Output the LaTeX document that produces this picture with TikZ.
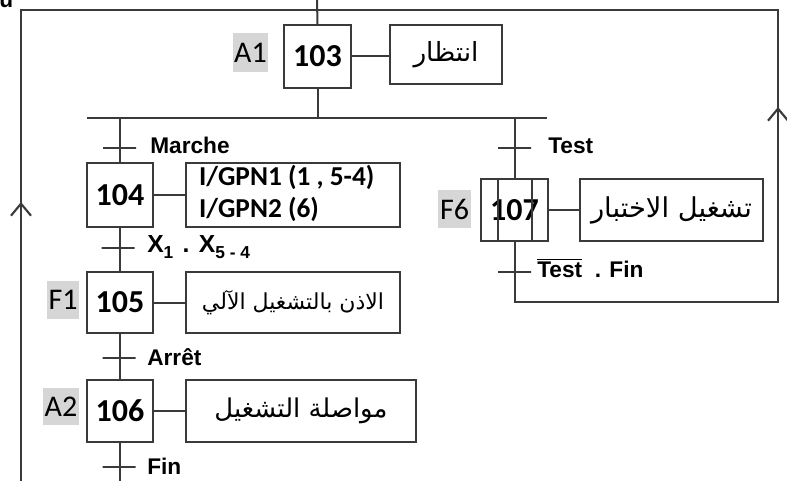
\documentclass[tikz,border=0pt]{standalone}
\usepackage{fontspec}
\usepackage{graphicx}
\setmainfont{Liberation Sans}
\newfontfamily\calib{Carlito}
\newfontfamily\arabicfont[Script=Arabic]{DejaVu Sans}
\TeXXeTstate=1
\usetikzlibrary{arrows.meta}
\definecolor{lc}{HTML}{3A3A3A}
\definecolor{lblgray}{HTML}{D6D6D6}
\tikzset{
  ln/.style={draw=lc, line width=1.5pt},
  stepbox/.style={draw=lc, line width=1.5pt, minimum width=50pt, inner sep=0pt,
    font=\calib\bfseries\fontsize{24}{28}\selectfont},
  actbox/.style={draw=lc, line width=1.5pt, inner sep=0pt},
  lbl/.style={fill=lblgray, inner sep=0pt, font=\calib\fontsize{22.5}{26}\selectfont},
  trans/.style={draw=lc, line width=1.5pt, minimum width=24.75pt, minimum height=0pt, inner sep=0pt},
  tlabel/.style={anchor=west, inner sep=0pt, font=\bfseries\fontsize{17}{20}\selectfont},
  upbarb/.style={-{Straight Barb[length=9pt,width=15pt,line width=1.6pt]}, draw=lc, line width=2pt},
}
\newcommand{\arfit}[2]{\resizebox{#1}{!}{#2}}
\newcommand{\subtxt}[1]{\raisebox{-4.5pt}{\fontsize{13}{13}\selectfont #1}}
\begin{document}
\begin{tikzpicture}[x=0.75pt,y=-0.75pt]
\useasboundingbox (0,0) rectangle (787,481);
% cropped fragment top-left
\node[anchor=base west, inner sep=0pt, font=\bfseries\fontsize{17}{20}\selectfont] (frag) at (-1,8) {u};

% coordinates
\coordinate (top) at (317,0);
\coordinate (divL) at (87,118);
\coordinate (divR) at (547,118);
\coordinate (loopTL) at (21,10);
\coordinate (loopTR) at (778,10);
\coordinate (loopBL) at (21,481);
\coordinate (loopBR) at (778,302);
\coordinate (bottom) at (120,481);

% steps
\node[stepbox, minimum height=47pt] (s103) at (317.5,56.5) {103};
\node[stepbox, minimum height=48pt] (s104) at (120,195) {104};
\node[stepbox, minimum height=46pt] (s105) at (120,302.5) {105};
\node[stepbox, minimum height=46.5pt] (s106) at (120,411) {106};
\node[stepbox, minimum height=46.5pt] (s107) at (514.5,210) {107};
\draw[ln] ([xshift=-12.75pt]s107.north) -- ([xshift=-12.75pt]s107.south);
\draw[ln] ([xshift=12.75pt]s107.north) -- ([xshift=12.75pt]s107.south);

% labels
\node[lbl, minimum width=26.25pt, minimum height=29.25pt] (l103) at (250.5,52.5) {A1};
\node[lbl, minimum width=24pt, minimum height=28.5pt] (l105) at (63,300) {F1};
\node[lbl, minimum width=27pt, minimum height=27.75pt] (l106) at (61,406.5) {A2};
\node[lbl, minimum width=24.75pt, minimum height=28.5pt] (l107) at (454.5,209) {F6};

% actions
\node[actbox, minimum width=84pt, minimum height=44.25pt] (a103) at (446,54.5)
  {\arfit{48.75pt}{\arabicfont\beginR انتظار\endR}};
\node[actbox, minimum width=160.5pt, minimum height=48pt] (a104) at (293,195)
  {\makebox[141pt][l]{\calib\bfseries\fontsize{20.5}{22.5}\selectfont
   \begin{tabular}{@{}l@{}}I/GPN1 (1 , 5-4)\\[1.5pt]I/GPN2 (6)\end{tabular}}};
\node[actbox, minimum width=160.5pt, minimum height=45.75pt] (a105) at (293,302.5)
  {\arfit{136.5pt}{\arabicfont\beginR الاذن بالتشغيل الآلي\endR}};
\node[actbox, minimum width=172.5pt, minimum height=46.5pt] (a106) at (301,411)
  {\arfit{129.75pt}{\arabicfont\beginR مواصلة التشغيل\endR}};
\node[actbox, minimum width=137.25pt, minimum height=46.5pt] (a107) at (671.5,210)
  {\arfit{120.75pt}{\arabicfont\beginR تشغيل الاختبار\endR}};

\draw[ln] (s103.east) -- (s103.east -| a103.west);
\draw[ln] (s104.east) -- (s104.east -| a104.west);
\draw[ln] (s105.east) -- (s105.east -| a105.west);
\draw[ln] (s106.east) -- (s106.east -| a106.west);
\draw[ln] (s107.east) -- (s107.east -| a107.west);

% links
\draw[ln] (top) -- (s103.north);
\draw[ln] (s103.south) -- (s103.south |- divL);
\draw[ln] (divL) -- (divR);
\draw[ln] (s104.north |- divL) -- (s104.north);
\draw[ln] (s104.south) -- (s105.north);
\draw[ln] (s105.south) -- (s106.north);
\draw[ln] (s106.south) -- (bottom);
\draw[ln] (s107.north |- divL) -- (s107.north);
\draw[ln] (s107.south) -- (s107.south |- loopBR) -- (loopBR) -- (loopTR) -- (loopTL) -- (loopBL);
\draw[upbarb] (778,150) -- (778,107);
\draw[upbarb] (21,245) -- (21,202);

% transitions
\node[trans] (t1) at (119.5,148) {};
\node[trans] (t2) at (118,248) {};
\node[trans] (t3) at (119,358) {};
\node[trans] (t4) at (119,467) {};
\node[trans] (t5) at (514.5,148) {};
\node[trans] (t6) at (514.5,272) {};

\node[tlabel] (tl1) at (150,145) {Marche};
\node[tlabel, font=\bfseries\fontsize{18.5}{20}\selectfont] (tl2) at (147,247)
  {X\subtxt{1}\hspace{7pt}.\hspace{7pt}X\subtxt{5 - 4}};
\node[tlabel] (tl3) at (147,357) {Arrêt};
\node[tlabel] (tl4) at (147,466) {Fin};
\node[tlabel] (tl5) at (548,146) {Test};
\node[tlabel] (tl6) at (537,268) {$\overline{\mbox{Test}}$ \ . Fin};
\end{tikzpicture}
\end{document}
